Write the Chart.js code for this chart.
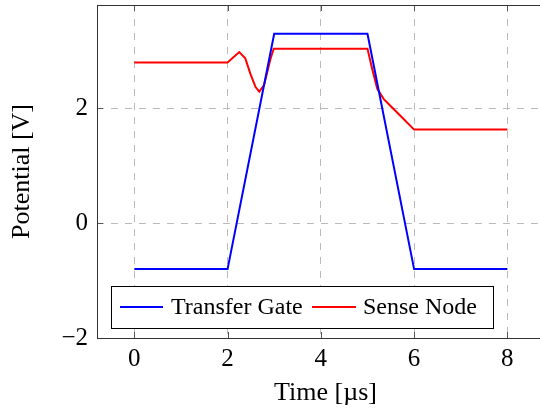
<!DOCTYPE html>
<html><head><meta charset="utf-8">
<script src="https://cdn.jsdelivr.net/npm/chart.js@4.4.1/dist/chart.umd.min.js"></script>
<style>html,body{margin:0;padding:0;background:#fff;overflow:hidden;width:540px;height:410px}</style>
</head><body>
<canvas id="c" width="560" height="410"></canvas>
<script>
const xTicks = [0, 2, 4, 6, 8];
const yTicks = [-2, 0, 2];
const gateLabel = 'Transfer Gate';
const senseLabel = 'Sense Node';
const gateX = [0, 2, 3, 5, 6, 8];
const gateY = [-0.8, -0.8, 3.3, 3.3, -0.8, -0.8];
const senseX = [0, 2, 2.25, 2.38, 2.49, 2.6, 2.68, 2.78, 2.85, 2.92, 2.99, 5, 5.1, 5.21, 5.35, 5.56, 5.78, 6, 8];
const senseY = [2.8, 2.8, 2.98, 2.87, 2.6, 2.37, 2.29, 2.40, 2.63, 2.86, 3.04, 3.04, 2.69, 2.34, 2.16, 1.99, 1.81, 1.63, 1.63];

const FONT = '"Liberation Serif", "Times New Roman", serif';
const pts = (xs, ys) => xs.map((x, i) => ({x, y: ys[i]}));

const framePlugin = {
  id: 'frame',
  afterDraw(chart) {
    const {ctx, chartArea: a, scales} = chart;
    ctx.save();
    ctx.strokeStyle = '#555';
    ctx.lineWidth = 1;
    ctx.beginPath();
    xTicks.forEach(v => {
      const px = Math.round(scales.x.getPixelForValue(v)) + 0.5;
      ctx.moveTo(px, a.bottom); ctx.lineTo(px, a.bottom - 6);
      ctx.moveTo(px, a.top); ctx.lineTo(px, a.top + 6);
    });
    yTicks.forEach(v => {
      const py = Math.round(scales.y.getPixelForValue(v)) + 0.5;
      ctx.moveTo(a.left, py); ctx.lineTo(a.left + 6, py);
      ctx.moveTo(a.right, py); ctx.lineTo(a.right - 6, py);
    });
    ctx.stroke();
    ctx.strokeStyle = '#333';
    ctx.strokeRect(Math.round(a.left) + 0.5, Math.round(a.top) + 0.5, Math.round(a.right - a.left), Math.round(a.bottom - a.top));
    const bx = 111, by = 286, bw = 382, bh = 42;
    ctx.fillStyle = '#fff';
    ctx.fillRect(bx, by, bw, bh);
    ctx.strokeStyle = '#000';
    ctx.strokeRect(bx + 0.5, by + 0.5, bw, bh);
    ctx.font = '24px ' + FONT;
    ctx.textBaseline = 'middle';
    ctx.fillStyle = '#000';
    const cy = by + bh / 2;
    const ds = chart.data.datasets;
    const entries = [{x0: 120, x1: 163, tx: 171}, {x0: 312, x1: 356, tx: 363}];
    entries.forEach((e, i) => {
      ctx.strokeStyle = ds[i].borderColor;
      ctx.lineWidth = 2;
      ctx.beginPath(); ctx.moveTo(e.x0, cy); ctx.lineTo(e.x1, cy); ctx.stroke();
      ctx.fillText(ds[i].label, e.tx, cy + 1);
    });
    ctx.restore();
  }
};

new Chart(document.getElementById('c'), {
  type: 'line',
  data: {
    datasets: [
      {label: gateLabel, data: pts(gateX, gateY), borderColor: '#0000ff', borderWidth: 2, pointRadius: 0, tension: 0, fill: false},
      {label: senseLabel, data: pts(senseX, senseY), borderColor: '#ff0000', borderWidth: 2, pointRadius: 0, tension: 0, fill: false}
    ]
  },
  options: {
    responsive: false,
    animation: false,
    layout: {padding: {top: 5, right: 6, left: 0, bottom: 0}},
    plugins: {legend: {display: false}, tooltip: {enabled: false}},
    scales: {
      x: {
        type: 'linear', min: -0.8, max: 9,
        afterBuildTicks: s => { s.ticks = xTicks.map(v => ({value: v})); },
        afterFit: s => { s.height = 72; s.paddingLeft = 0; s.paddingRight = 0; },
        grid: {color: '#bbbbbb', drawTicks: false},
        border: {display: false, dash: [7, 7]},
        ticks: {color: '#000', padding: 6, maxRotation: 0, font: {family: FONT, size: 25}, callback: v => String(v)},
        title: {display: true, text: 'Time [µs]', color: '#000', font: {family: FONT, size: 26}, padding: {top: 0, bottom: 1}}
      },
      y: {
        type: 'linear', min: -2, max: 3.8,
        afterBuildTicks: s => { s.ticks = yTicks.map(v => ({value: v})); },
        afterFit: s => { s.width = 97; s.paddingTop = 0; s.paddingBottom = 0; },
        grid: {color: '#bbbbbb', drawTicks: false},
        border: {display: false, dash: [7, 7]},
        ticks: {color: '#000', padding: 9, font: {family: FONT, size: 25}, callback: v => v < 0 ? '\u2212' + Math.abs(v) : String(v)},
        title: {display: true, text: 'Potential [V]', color: '#000', font: {family: FONT, size: 26}, padding: {top: 7, bottom: 0}}
      }
    }
  },
  plugins: [framePlugin]
});
</script>
</body></html>
